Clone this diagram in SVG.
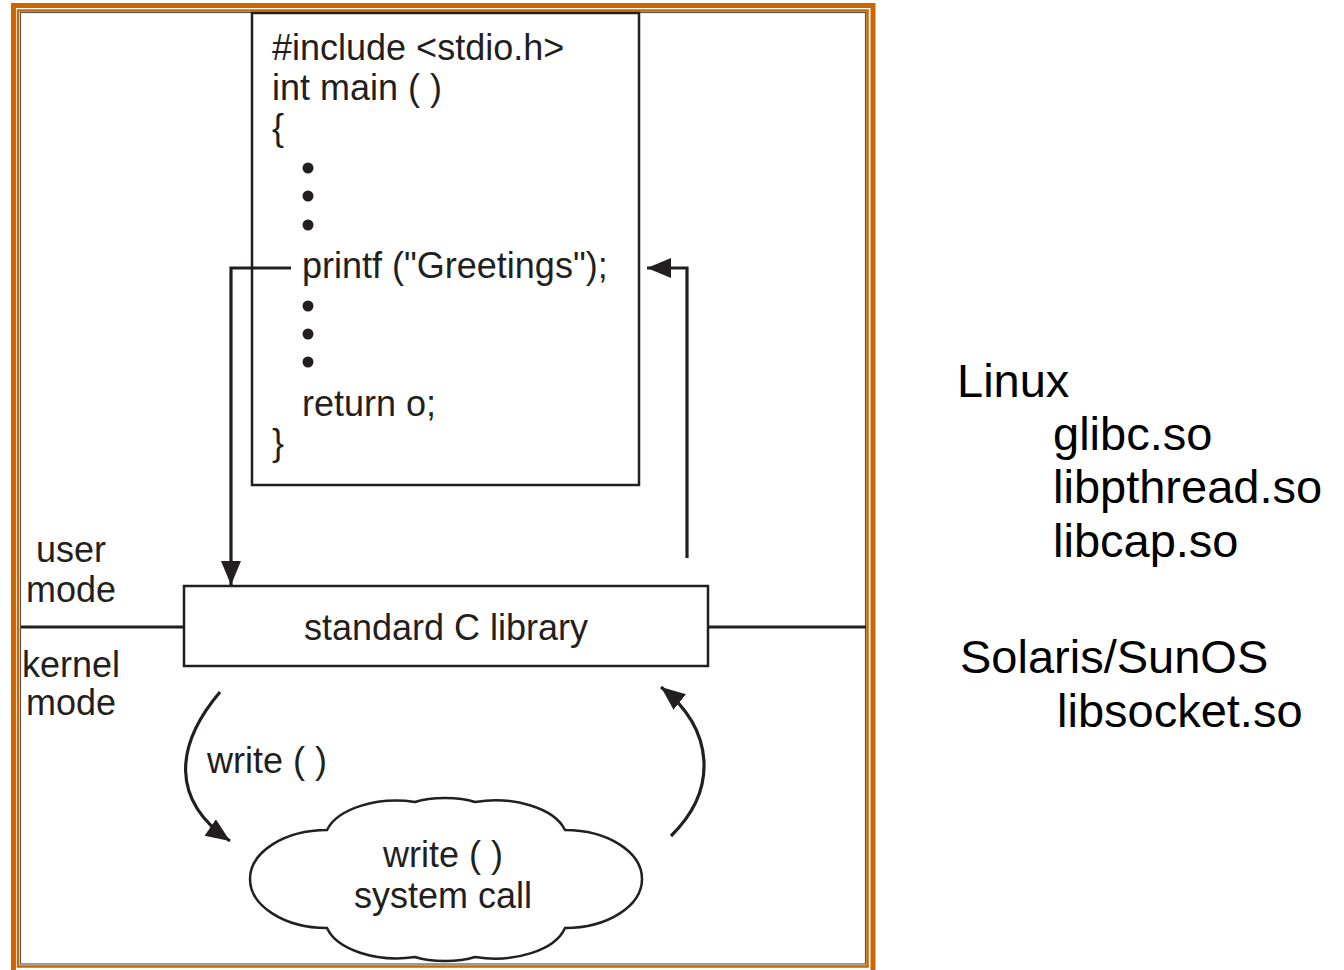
<svg xmlns="http://www.w3.org/2000/svg" width="1344" height="970" viewBox="0 0 1344 970">
<style>
.t{font-family:"Liberation Sans",Arial,sans-serif;font-size:36px;fill:#231f20}
.r{font-family:"Liberation Sans",Arial,sans-serif;font-size:47px;fill:#000}
.box{fill:#fff;stroke:#231f20;stroke-width:2.5}
.ln{fill:none;stroke:#231f20;stroke-width:3.2}
.dot{fill:#231f20}
</style>
<defs>
<marker id="ah" markerUnits="userSpaceOnUse" markerWidth="26" markerHeight="22" refX="24" refY="11" orient="auto">
<path d="M0,1 L24,11 L0,21 z" fill="#231f20"/>
</marker>
</defs>
<rect width="1344" height="970" fill="#fff"/>
<g id="frame">
<rect x="13.5" y="5.5" width="859.5" height="975" fill="none" stroke="#cc6600" stroke-width="5"/>
<rect x="18" y="10.5" width="849.5" height="956" fill="none" stroke="#cc6600" stroke-width="2.5"/>
<rect x="20.5" y="12.5" width="845" height="951.5" fill="none" stroke="#555" stroke-width="1.2"/>
</g>
<g id="mode-line">
<line x1="21" y1="627" x2="184" y2="627" class="ln"/>
<line x1="708" y1="627" x2="866" y2="627" class="ln"/>
</g>
<g id="code">
<rect x="252" y="13" width="387" height="472" class="box"/>
<text class="t" x="272" y="60">#include &lt;stdio.h&gt;</text>
<text class="t" x="272" y="100">int main ( )</text>
<text class="t" x="272" y="140">{</text>
<circle class="dot" cx="308" cy="168" r="5.5"/>
<circle class="dot" cx="308" cy="196" r="5.5"/>
<circle class="dot" cx="308" cy="225" r="5.5"/>
<text class="t" x="302" y="278">printf ("Greetings");</text>
<circle class="dot" cx="308" cy="306" r="5.5"/>
<circle class="dot" cx="308" cy="334" r="5.5"/>
<circle class="dot" cx="308" cy="362" r="5.5"/>
<text class="t" x="302" y="416">return o;</text>
<text class="t" x="272" y="455">}</text>
</g>
<g id="library">
<rect x="184" y="586" width="524" height="80" class="box"/>
<text class="t" x="446" y="640" text-anchor="middle">standard C library</text>
</g>
<g id="syscall">
<path class="box" d="M327,830 A72,40 0 0 1 415,802 A40,12 0 0 1 475,802 A72,40 0 0 1 565,830 A77,49 0 0 1 565,928 A72,40 0 0 1 475,957 A40,12 0 0 1 415,957 A72,40 0 0 1 327,928 A77,49 0 0 1 327,830 Z"/>
<text class="t" x="443" y="867" text-anchor="middle">write ( )</text>
<text class="t" x="443" y="908" text-anchor="middle">system call</text>
</g>
<g id="labels">
<text class="t" x="36" y="562">user</text>
<text class="t" x="26" y="602">mode</text>
<text class="t" x="22" y="677">kernel</text>
<text class="t" x="26" y="715">mode</text>
<text class="t" x="207" y="773">write ( )</text>
</g>
<g id="connectors">
<polyline class="ln" points="291,268 231,268 231,585" marker-end="url(#ah)"/>
<polyline class="ln" points="687,558 687,268 647,268" marker-end="url(#ah)"/>
<path class="ln" d="M220,692 C175,745 170,800 230,841" marker-end="url(#ah)"/>
<path class="ln" d="M671,836 C718,790 715,730 661,687" marker-end="url(#ah)"/>
</g>
<g id="libraries">
<text class="r" x="957" y="397">Linux</text>
<text class="r" x="1053" y="450">glibc.so</text>
<text class="r" x="1053" y="503">libpthread.so</text>
<text class="r" x="1053" y="557">libcap.so</text>
<text class="r" x="960" y="673">Solaris/SunOS</text>
<text class="r" x="1057" y="727">libsocket.so</text>
</g>
</svg>
